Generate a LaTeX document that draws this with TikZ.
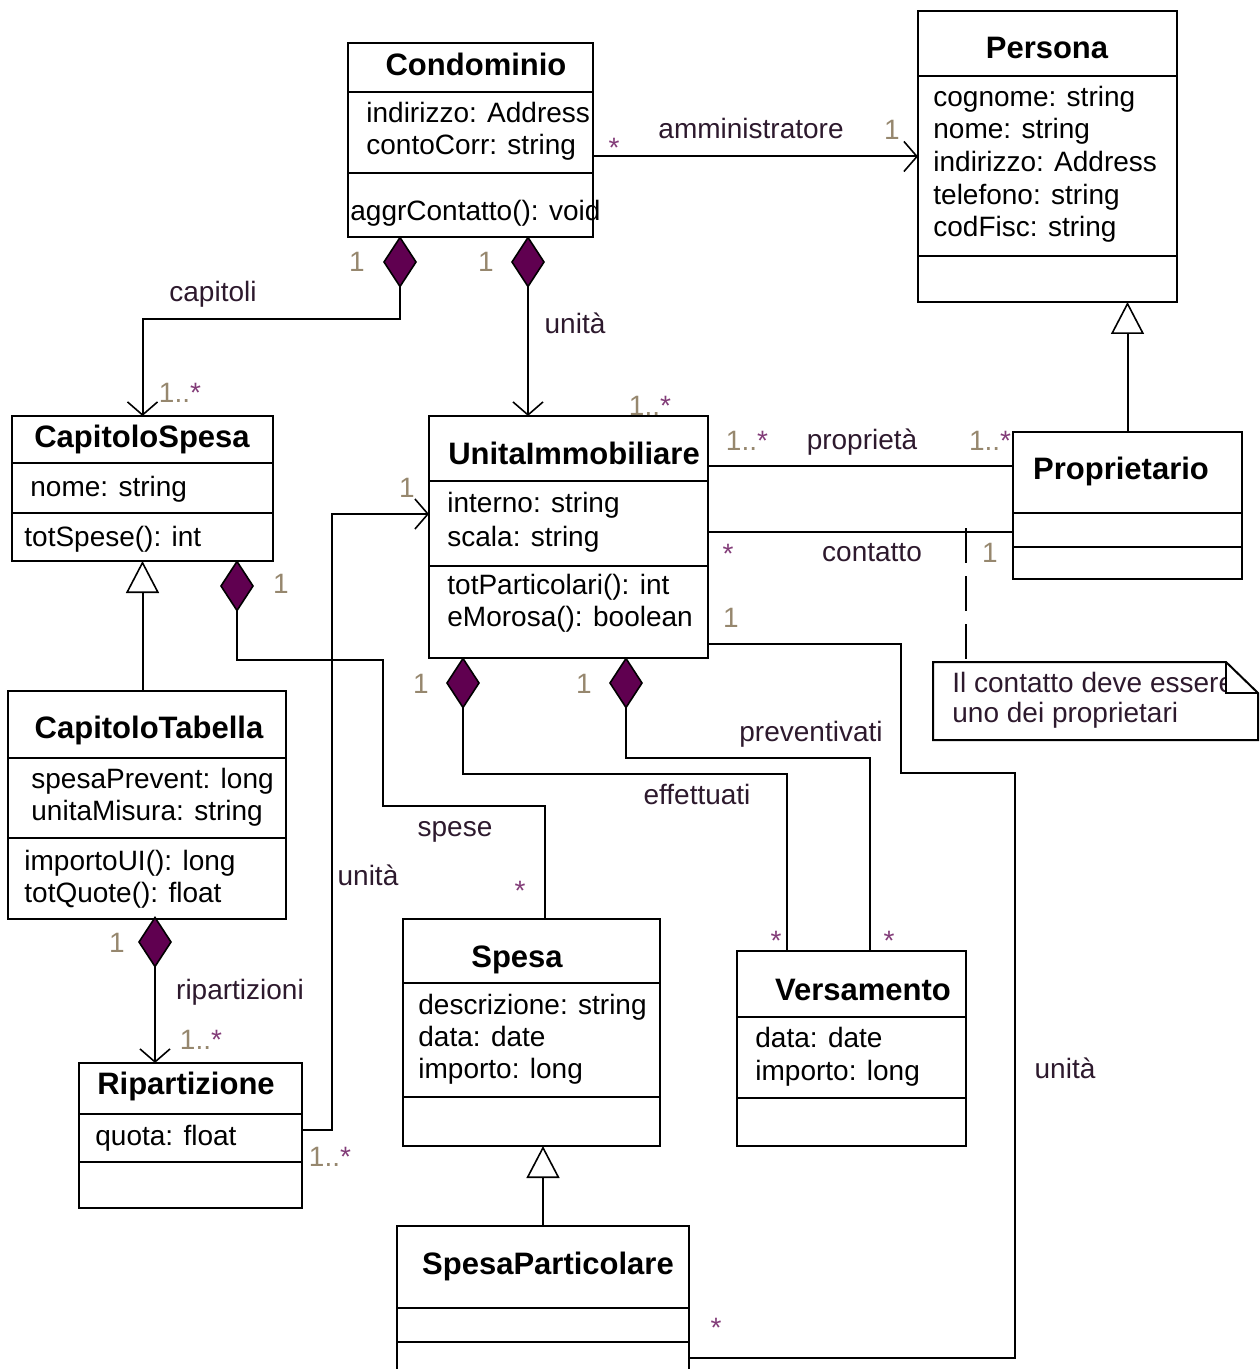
\documentclass[tikz,border=0pt]{standalone}
\usepackage{fontspec}
\setmainfont{Liberation Sans}
\usetikzlibrary{arrows.meta,shapes.geometric,fit,calc}

\definecolor{compfill}{RGB}{96,0,80}
\definecolor{multcol}{RGB}{150,135,110}
\definecolor{starcol}{RGB}{130,60,120}
\definecolor{lblcol}{RGB}{45,25,45}

\tikzset{
  cls/.style={draw,line width=1pt,inner sep=0pt,outer sep=0pt},
  ctitle/.style={anchor=base,yshift=-5.5pt,inner sep=0pt,
    font=\bfseries\fontsize{15.5}{18}\selectfont},
  cattr/.style={anchor=base west,yshift=-4.5pt,inner sep=0pt,
    font=\fontsize{14}{16}\selectfont},
  lbl/.style={anchor=base,yshift=-4.5pt,inner sep=0pt,text=lblcol,
    font=\fontsize{14}{16}\selectfont},
  mult/.style={anchor=base,yshift=-5pt,inner sep=0pt,text=multcol,
    font=\fontsize{14}{16}\selectfont},
  star/.style={anchor=base,yshift=-7.5pt,inner sep=0pt,text=starcol,
    font=\fontsize{14}{16}\selectfont},
  comp/.style={diamond,draw,fill=compfill,line width=0.8pt,inner sep=0pt,
    outer sep=0pt,minimum width=16pt,minimum height=24.5pt},
  link/.style={line width=1pt},
  assoc/.style={link,-{Straight Barb[length=6.5pt,width=15pt,line width=0.8pt]}},
  gen/.style={link,-{Triangle[open,length=16pt,width=16.5pt,line width=0.8pt]}},
}

\begin{document}
\begin{tikzpicture}
\begin{scope}[x=0.5pt,y=-0.5pt]
\useasboundingbox (0,0) rectangle (1259,1369);
\clip (0,0) rectangle (1259,1369);

% Condominio
\node[cls,fit={(348,43) (593,237)}] (cond) {};
\path[draw,line width=1pt] (348,92) -- (593,92);
\path[draw,line width=1pt] (348,173) -- (593,173);
\node[ctitle] (condT) at (476,65) {Condominio};
\node[cattr] (condA1) at (366,114) {indirizzo: Address};
\node[cattr] (condA2) at (366,146) {contoCorr: string};
\node[cattr] (condM1) at (350,212) {aggrContatto(): void};

% Persona
\node[cls,fit={(918,11) (1177,302)}] (pers) {};
\path[draw,line width=1pt] (918,76) -- (1177,76);
\path[draw,line width=1pt] (918,256) -- (1177,256);
\node[ctitle] (persT) at (1047,48) {Persona};
\node[cattr] (persA1) at (933,98)  {cognome: string};
\node[cattr] (persA2) at (933,130) {nome: string};
\node[cattr] (persA3) at (933,163) {indirizzo: Address};
\node[cattr] (persA4) at (933,196) {telefono: string};
\node[cattr] (persA5) at (933,228) {codFisc: string};

% CapitoloSpesa
\node[cls,fit={(12,416) (273,561)}] (capsp) {};
\path[draw,line width=1pt] (12,463) -- (273,463);
\path[draw,line width=1pt] (12,513) -- (273,513);
\node[ctitle] (capspT) at (142,436) {CapitoloSpesa};
\node[cattr] (capspA1) at (30,487) {nome: string};
\node[cattr] (capspM1) at (24,537) {totSpese(): int};

% UnitaImmobiliare
\node[cls,fit={(429,416) (708,658)}] (unita) {};
\path[draw,line width=1pt] (429,481) -- (708,481);
\path[draw,line width=1pt] (429,566) -- (708,566);
\node[ctitle] (unitaT) at (574,453) {UnitaImmobiliare};
\node[cattr] (unitaA1) at (447,503) {interno: string};
\node[cattr] (unitaA2) at (447,537) {scala: string};
\node[cattr] (unitaM1) at (447,585) {totParticolari(): int};
\node[cattr] (unitaM2) at (447,617) {eMorosa(): boolean};

% Proprietario
\node[cls,fit={(1013,432) (1242,579)}] (propr) {};
\path[draw,line width=1pt] (1013,513) -- (1242,513);
\path[draw,line width=1pt] (1013,547) -- (1242,547);
\node[ctitle] (proprT) at (1121,468) {Proprietario};

% CapitoloTabella
\node[cls,fit={(8,691) (286,919)}] (captab) {};
\path[draw,line width=1pt] (8,758) -- (286,758);
\path[draw,line width=1pt] (8,838) -- (286,838);
\node[ctitle] (captabT) at (149,727) {CapitoloTabella};
\node[cattr] (captabA1) at (31,779) {spesaPrevent: long};
\node[cattr] (captabA2) at (31,811) {unitaMisura: string};
\node[cattr] (captabM1) at (24,861) {importoUI(): long};
\node[cattr] (captabM2) at (24,893) {totQuote(): float};

% Ripartizione
\node[cls,fit={(79,1063) (302,1208)}] (ripart) {};
\path[draw,line width=1pt] (79,1114) -- (302,1114);
\path[draw,line width=1pt] (79,1162) -- (302,1162);
\node[ctitle] (ripartT) at (186,1083) {Ripartizione};
\node[cattr] (ripartA1) at (95,1136) {quota: float};

% Spesa
\node[cls,fit={(403,919) (660,1146)}] (spesa) {};
\path[draw,line width=1pt] (403,983) -- (660,983);
\path[draw,line width=1pt] (403,1097) -- (660,1097);
\node[ctitle] (spesaT) at (517,956) {Spesa};
\node[cattr] (spesaA1) at (418,1005) {descrizione: string};
\node[cattr] (spesaA2) at (418,1037) {data: date};
\node[cattr] (spesaA3) at (418,1069) {importo: long};

% Versamento
\node[cls,fit={(737,951) (966,1146)}] (vers) {};
\path[draw,line width=1pt] (737,1017) -- (966,1017);
\path[draw,line width=1pt] (737,1098) -- (966,1098);
\node[ctitle] (versT) at (863,989) {Versamento};
\node[cattr] (versA1) at (755,1038) {data: date};
\node[cattr] (versA2) at (755,1071) {importo: long};

% SpesaParticolare
\node[cls,fit={(397,1226) (689,1376)}] (spart) {};
\path[draw,line width=1pt] (397,1308) -- (689,1308);
\path[draw,line width=1pt] (397,1342) -- (689,1342);
\node[ctitle] (spartT) at (548,1263) {SpesaParticolare};

% note
\node[inner sep=0pt,outer sep=0pt,fit={(933,662) (1258,740)}] (note) {};
\node[cattr,text=lblcol] (noteL1) at (952,683) {Il contatto deve essere};
\node[cattr,text=lblcol] (noteL2) at (952,713) {uno dei proprietari};
\fill[white] (1227,660) rectangle (1260,692);
\path[draw,line width=1pt] (933,662) -- (1226,662) -- (1258,693) -- (1258,740)
  -- (933,740) -- cycle;
\path[draw,line width=1pt] (1226,662) -- (1226,693) -- (1258,693);

% compositions
\node[comp] (dCap) at (400,262) {};
\node[comp] (dUni) at (528,262) {};
\node[comp] (dSpe) at (237,586) {};
\node[comp] (dRip) at (155,942) {};
\node[comp] (dEff) at (463,683) {};
\node[comp] (dPre) at (626,683) {};

% connectors
\draw[assoc] (cond.east |- pers.west) -- (pers.west);
\draw[assoc] (dCap.south) -- ++(0,33) -| (capsp.north);
\draw[assoc] (dUni.south) -- (dUni.south |- unita.north);
\draw[link] ($(unita.north east)+(0,50)$) -- ($(propr.north west)+(0,34)$);
\draw[link] ($(unita.north east)+(0,116)$) -- ($(propr.north west)+(0,100)$);
\draw[gen] (propr.north) -- (propr.north |- pers.south);
\draw[gen] (capsp.south |- captab.north) -- (capsp.south);
\draw[gen] (spart.north) -- (spart.north |- spesa.south);
\draw[link] (dSpe.south) -- ++(0,49) -| ++(146,146) -| ($(spesa.north)+(13.5,0)$);
\draw[assoc] ($(ripart.north east)+(0,67)$) -- ++(30,0) |- ($(unita.north west)+(0,98)$);
\draw[assoc] (dRip.south) -- (dRip.south |- ripart.north);
\draw[link] (dEff.south) -- ++(0,66) -| ($(vers.north west)+(50,0)$);
\draw[link] (dPre.south) -- ++(0,50) -| ($(vers.north west)+(133,0)$);
\draw[link] ($(unita.north east)+(0,228)$) -- ++(193,0) -- ++(0,129) -- ++(114,0)
  |- ($(spart.north east)+(0,132)$);
\coordinate (cLink) at (966,528);
\draw[link,dash pattern=on 17.5pt off 6.5pt] (cLink) -- (cLink |- note.north);

% labels
\node[mult] (mCap1) at (357,262) {1};
\node[lbl]  (lCap)  at (213,293) {capitoli};
\node[mult] (mCap2) at (180,392) {1..\textcolor{starcol}{*}};
\node[mult] (mUni1) at (486,262) {1};
\node[lbl]  (lUni)  at (575,325) {unità};
\node[mult] (mUni2) at (650,405) {1..\textcolor{starcol}{*}};
\node[star] (mAdm1) at (614,143) {*};
\node[lbl]  (lAdm)  at (751,130) {amministratore};
\node[mult] (mAdm2) at (892,130) {1};
\node[mult] (mPro1) at (747,440) {1..\textcolor{starcol}{*}};
\node[lbl]  (lPro)  at (862,440) {proprietà};
\node[mult] (mPro2) at (990,440) {1..\textcolor{starcol}{*}};
\node[star] (mCon1) at (728,548) {*};
\node[lbl]  (lCon)  at (872,552) {contatto};
\node[mult] (mCon2) at (990,552) {1};
\node[mult] (mSpe1) at (281,583) {1};
\node[lbl]  (lSpe)  at (455,827) {spese};
\node[star] (mSpe2) at (520,885) {*};
\node[mult] (mRu1)  at (407,487) {1};
\node[lbl]  (lRu)   at (368,876) {unità};
\node[mult] (mRu2)  at (330,1156) {1..\textcolor{starcol}{*}};
\node[mult] (mRip1) at (117,942) {1};
\node[lbl]  (lRip)  at (240,990) {ripartizioni};
\node[mult] (mRip2) at (201,1039) {1..\textcolor{starcol}{*}};
\node[mult] (mEff1) at (421,683) {1};
\node[lbl]  (lEff)  at (697,795) {effettuati};
\node[star] (mEff2) at (776,935) {*};
\node[mult] (mPre1) at (584,683) {1};
\node[lbl]  (lPre)  at (811,732) {preventivati};
\node[star] (mPre2) at (889,935) {*};
\node[mult] (mSp1)  at (731,617) {1};
\node[lbl]  (lSp)   at (1065,1069) {unità};
\node[star] (mSp2)  at (716,1322) {*};

\end{scope}
\end{tikzpicture}
\end{document}
